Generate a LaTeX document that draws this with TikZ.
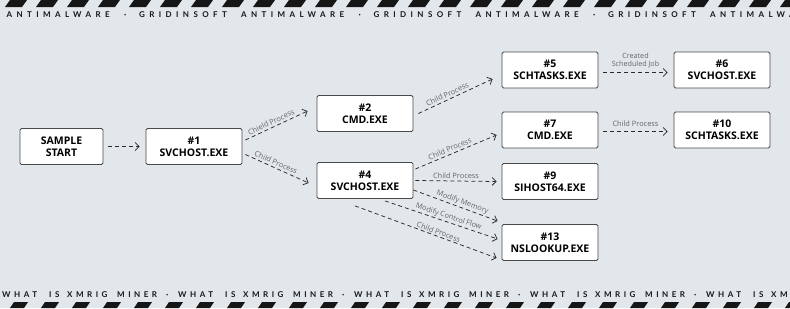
\documentclass[tikz,border=0pt]{standalone}
\usepackage{fontspec}
\setmainfont{Open Sans}
\newfontfamily\bandfont[LetterSpace=55]{Lato}
\newfontfamily\bandfontb[LetterSpace=44]{Lato}
\usetikzlibrary{arrows.meta,calc}
\definecolor{bg}{HTML}{E2E7EB}
\definecolor{stripec}{HTML}{161616}
\definecolor{boxline}{HTML}{4A4A4A}
\definecolor{arrowc}{HTML}{2A2A2A}
\definecolor{lblc}{HTML}{666666}
\begin{document}
\begin{tikzpicture}[x=1pt,y=-1pt,
  box/.style={draw=boxline, fill=white, rounded corners=1.5pt, minimum width=96pt, minimum height=36pt, align=center, font=\bfseries\fontsize{10.5}{12}\selectfont, inner sep=0pt, line width=0.8pt},
  flow/.style={draw=arrowc, dash pattern=on 4pt off 3pt, line width=0.75pt, -{Straight Barb[length=4pt,width=8pt]}},
  lbl/.style={font=\fontsize{7.4}{8.5}\selectfont, text=lblc, sloped, anchor=south, inner sep=2.2pt},
  band/.style={font=\bandfont\bfseries\fontsize{8}{9}\selectfont, text=stripec, anchor=base west, inner sep=0pt},
  bandb/.style={font=\bandfontb\bfseries\fontsize{8}{9}\selectfont, text=stripec, anchor=base west, inner sep=0pt}]
\useasboundingbox (0,0) rectangle (790,308);
\fill[bg] (0,0) rectangle (790,308);
\begin{scope}
\clip (0,0) rectangle (790,308);
% stripes
\foreach \k in {0,...,26}{
  \fill[stripec] ({5+31*\k},7) -- ({22+31*\k},7) -- ({27+31*\k},0) -- ({10+31*\k},0) -- cycle;
  \fill[stripec] ({10+31*\k},308) -- ({24+31*\k},308) -- ({28+31*\k},302) -- ({14+31*\k},302) -- cycle;
}
% band texts
\foreach \k in {-1,0,1,2,3}{
  \node[band] (tg\k) at ({139+234.5*\k},17.5) {GRIDINSOFT};
  \node[band] (ta\k) at ({241+234.5*\k},17.5) {ANTIMALWARE};
  \node[band] (td\k) at ({124+234.5*\k},17.5) {·};
}
\foreach \k in {0,1,2,3,4}{
  \node[bandb] (bw\k) at ({2+176*\k},297) {WHAT};
  \node[bandb] (bi\k) at ({49+176*\k},297) {IS};
  \node[bandb] (bx\k) at ({67+176*\k},297) {XMRIG};
  \node[bandb] (bm\k) at ({117+176*\k},297) {MINER};
  \node[bandb] (bd\k) at ({166+176*\k},297) {·};
}
\end{scope}
% nodes
\node[box, minimum width=83pt] (s) at (61.5,146.5) {SAMPLE\\START};
\node[box] (n1) at (194,146.5) {\#1\\SVCHOST.EXE};
\node[box] (n2) at (365,113.5) {\#2\\CMD.EXE};
\node[box] (n4) at (365,180.5) {\#4\\SVCHOST.EXE};
\node[box] (n5) at (550,70) {\#5\\SCHTASKS.EXE};
\node[box] (n6) at (722,70) {\#6\\SVCHOST.EXE};
\node[box] (n7) at (550,130) {\#7\\CMD.EXE};
\node[box] (n10) at (722,130) {\#10\\SCHTASKS.EXE};
\node[box] (n9) at (550,181.5) {\#9\\SIHOST64.EXE};
\node[box] (n13) at (550,242.5) {\#13\\NSLOOKUP.EXE};
% connectors
\draw[flow] ($(s.east)+(5,0)$) -- ($(n1.west)+(-6,0)$);
\draw[flow] ($(n1.east)+(3,-6.5)$) -- node[lbl, pos=0.45] {Chield Process} ($(n2.west)+(-9,-2.5)$);
\draw[flow] ($(n1.east)+(3,8)$) -- node[lbl, pos=0.45] {Child Process} ($(n4.west)+(-8,2.5)$);
\draw[flow] ($(n2.east)+(5,0)$) -- node[lbl, pos=0.42] {Child Process} ($(n5.west)+(-9,9)$);
\draw[flow] ($(n4.east)+(2,-11.5)$) -- node[lbl, pos=0.45] {Child Process} ($(n7.west)+(-5,5)$);
\draw[flow] ($(n4.east)+(2,0)$) -- node[lbl, pos=0.5] {Child Process} ($(n9.west)+(-5,0)$);
\draw[flow] ($(n4.east)+(0,9.5)$) -- node[lbl, pos=0.56, inner sep=1.2pt] {Modify Memory} ($(n13.west)+(-4,-21.5)$);
\draw[flow] ($(n4.south)+(20,2)$) -- node[lbl, pos=0.55, inner sep=1.2pt] {Modify Control Flow} ($(n13.west)+(-4,-3.5)$);
\draw[flow] ($(n4.south)+(-10,7)$) -- node[lbl, pos=0.58, inner sep=1.2pt] {Child Process} ($(n13.west)+(-5,15.5)$);
\draw[flow] ($(n5.east)+(5,2.5)$) -- node[lbl, align=center, pos=0.5, inner sep=4pt, font=\fontsize{7.2}{8.5}\selectfont] {Created\\Scheduled Job} ($(n6.west)+(-6,2.5)$);
\draw[flow] ($(n7.east)+(5,1.5)$) -- node[lbl, pos=0.5, inner sep=5pt] {Child Process} ($(n10.west)+(-6,1.5)$);
\end{tikzpicture}
\end{document}
